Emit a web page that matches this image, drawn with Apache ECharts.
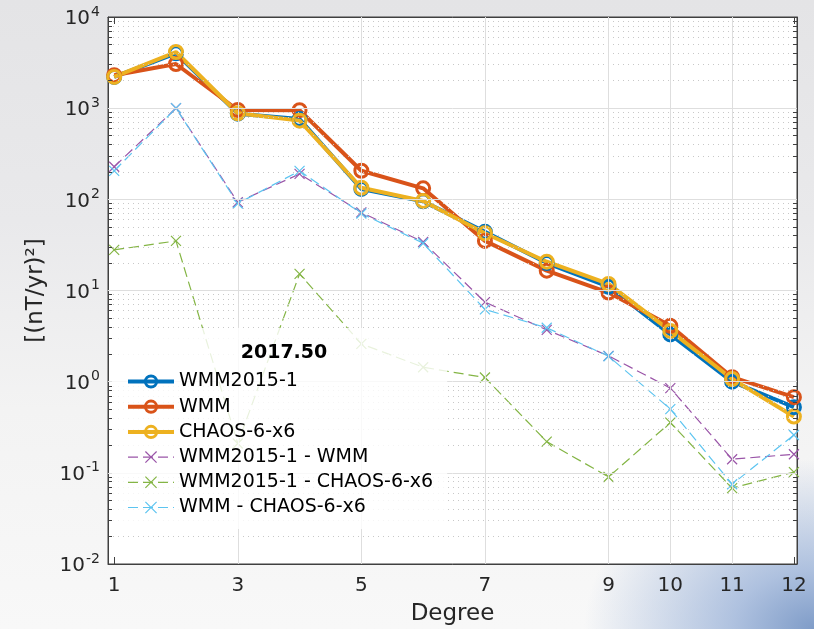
<!DOCTYPE html>
<html>
<head>
<meta charset="utf-8">
<script src="https://cdn.jsdelivr.net/npm/echarts@6/dist/echarts.min.js"></script>
<style>
  html, body { margin: 0; padding: 0; }
  body {
    width: 814px; height: 629px;
    background:
      radial-gradient(ellipse 230px 170px at 100% 100%, #7f9cc8 0%, rgba(150,175,215,0.75) 35%, rgba(255,255,255,0) 100%),
      linear-gradient(to bottom, #e4e4e6 0%, #e9e9eb 35%, #f3f3f3 65%, #f8f8f8 100%);
  }
  #chart { width: 814px; height: 629px; }
</style>
</head>
<body>
<div id="chart"></div>
<script>
'use strict';

const degrees = [1, 2, 3, 4, 5, 6, 7, 8, 9, 10, 11, 12];
const wmm2015 = [2200, 4000, 870, 760, 130, 95, 44, 20, 11, 3.3, 1.0, 0.525];
const wmm = [2300, 3050, 955, 950, 206, 132, 35, 16.5, 9.5, 4.1, 1.12, 0.676];
const chaos = [2200, 4130, 880, 730, 134, 96, 42.5, 20.7, 11.8, 3.6, 1.07, 0.414];
const diffWmm2015Wmm = [228, 1000, 93, 190, 72, 34, 7.45, 3.7, 1.92, 0.85, 0.141, 0.16];
const diffWmm2015Chaos = [27.9, 35, 0.21, 15.2, 2.6, 1.44, 1.11, 0.22, 0.09, 0.356, 0.068, 0.102];
const diffWmmChaos = [205, 1000, 90, 205, 70, 33, 6.2, 3.9, 1.9, 0.5, 0.075, 0.26];

const xTicks = [1, 3, 5, 7, 9, 10, 11, 12];
const yDecades = [0.01, 0.1, 1, 10, 100, 1000, 10000];
const legendTitle = '2017.50';

const X_MIN = 0.9;
const X_MAX = 12.05;

// minor positions 2..9 x 10^k
const yMinor = [];
yDecades.slice(0, -1).forEach(d => {
    for (let m = 2; m <= 9; m++) yMinor.push(+(d * m).toPrecision(3));
});

const pairs = vals => degrees.map((d, i) => [d, vals[i]]);

const crossPath = 'path://M0,0L10,10M10,0L0,10';

const thickSeries = (name, color, vals) => ({
    name: name,
    type: 'line',
    data: pairs(vals),
    symbol: 'circle',
    symbolSize: 13,
    lineStyle: { color: color, width: 4 },
    itemStyle: { color: 'rgba(255,255,255,0)', borderColor: color, borderWidth: 3 },
    emphasis: { disabled: true },
    z: 3
});

const diffSeries = (name, color, vals) => ({
    name: name,
    type: 'line',
    data: pairs(vals),
    symbol: crossPath,
    symbolSize: 10,
    lineStyle: { color: color, width: 1.2, type: [10, 5] },
    itemStyle: { color: color, borderColor: color, borderWidth: 1.2 },
    emphasis: { disabled: true },
    z: 4
});

// grid lines and minor ticks, placed through the axes
const gridLines = {
    type: 'line',
    data: [],
    silent: true,
    z: 1,
    markLine: {
        silent: true,
        symbol: 'none',
        label: { show: false },
        animation: false,
        data: [].concat(
            yMinor.map(v => ({ yAxis: v, lineStyle: { color: '#c8c8c8', width: 1, type: [1, 4] } })),
            yDecades.slice(1, -1).map(v => ({ yAxis: v, lineStyle: { color: '#dedede', width: 1, type: 'solid' } })),
            xTicks.slice(1, -1).map(v => ({ xAxis: v, lineStyle: { color: '#dedede', width: 1, type: 'solid' } })),
            yMinor.map(v => [
                { coord: [X_MIN, v], lineStyle: { color: '#404040', width: 1, type: 'solid' } },
                { coord: [X_MIN + 0.065, v] }
            ]),
            yMinor.map(v => [
                { coord: [X_MAX, v], lineStyle: { color: '#404040', width: 1, type: 'solid' } },
                { coord: [X_MAX - 0.065, v] }
            ])
        )
    }
};

const chart = echarts.init(document.getElementById('chart'));

const txt = '#262626';
const font = 'DejaVu Sans';

const thickLegend = name => ({ name: name, lineStyle: { width: 4 }, itemStyle: { borderWidth: 3 } });
const thinLegend = name => ({ name: name, lineStyle: { width: 1.2 }, itemStyle: { borderWidth: 1.2 } });

chart.setOption({
    animation: false,
    textStyle: { fontFamily: font },
    title: {
        text: legendTitle,
        left: 279,
        top: 339,
        textAlign: 'center',
        textStyle: { fontFamily: font, fontSize: 19, fontWeight: 'bold', color: '#000' },
        z: 12
    },
    grid: {
        left: 108, right: 17, top: 17, bottom: 65,
        outerBoundsMode: 'none',
        containLabel: false,
        show: true,
        backgroundColor: '#ffffff',
        borderColor: '#404040',
        borderWidth: 1
    },
    legend: {
        orient: 'vertical',
        left: 112,
        top: 328,
        z: 10,
        padding: [44, 14, 12, 14],
        backgroundColor: 'rgba(255,255,255,0.82)',
        itemWidth: 46,
        itemHeight: 14,
        itemGap: 6.2,
        selectedMode: false,
        textStyle: { fontFamily: font, fontSize: 19, color: '#000' },
        data: [
            thickLegend('WMM2015-1'),
            thickLegend('WMM'),
            thickLegend('CHAOS-6-x6'),
            thinLegend('WMM2015-1 - WMM'),
            thinLegend('WMM2015-1 - CHAOS-6-x6'),
            thinLegend('WMM - CHAOS-6-x6')
        ]
    },
    xAxis: [
        {
            type: 'value',
            min: X_MIN,
            max: X_MAX,
            name: 'Degree',
            nameLocation: 'middle',
            nameGap: 39,
            nameTextStyle: { fontFamily: font, fontSize: 23, color: txt },
            axisLine: { show: true, lineStyle: { color: '#404040' } },
            axisTick: { inside: true, length: 7, customValues: xTicks, lineStyle: { color: '#404040' } },
            axisLabel: { customValues: xTicks, fontSize: 20, color: txt, margin: 12, fontFamily: font },
            splitLine: { show: false }
        },
        {
            type: 'value',
            position: 'top',
            min: X_MIN,
            max: X_MAX,
            axisLine: { show: true, lineStyle: { color: '#404040' } },
            axisTick: { inside: true, length: 7, customValues: xTicks, lineStyle: { color: '#404040' } },
            axisLabel: { show: false },
            splitLine: { show: false }
        }
    ],
    yAxis: [
        {
            type: 'log',
            logBase: 10,
            min: 0.01,
            max: 10000,
            interval: 1,
            name: '[(nT/yr)²]',
            nameLocation: 'middle',
            nameGap: 60,
            nameTextStyle: { fontFamily: font, fontSize: 23, color: txt },
            axisLine: { show: true, lineStyle: { color: '#404040' } },
            axisTick: { inside: true, length: 8, lineStyle: { color: '#404040' } },
            axisLabel: {
                margin: 8,
                formatter: v => '{b|10}{s|' + Math.round(Math.log10(v)) + '}',
                rich: {
                    b: { fontSize: 20, color: txt, fontFamily: font, verticalAlign: 'bottom' },
                    s: { fontSize: 14, color: txt, fontFamily: font, verticalAlign: 'top', padding: [0, 0, 10, 1] }
                }
            },
            splitLine: { show: false }
        },
        {
            type: 'log',
            logBase: 10,
            min: 0.01,
            max: 10000,
            interval: 1,
            position: 'right',
            axisLine: { show: true, lineStyle: { color: '#404040' } },
            axisTick: { inside: true, length: 8, lineStyle: { color: '#404040' } },
            axisLabel: { show: false },
            splitLine: { show: false }
        }
    ],
    series: [
        gridLines,
        thickSeries('WMM2015-1', '#0072BD', wmm2015),
        thickSeries('WMM', '#D95319', wmm),
        thickSeries('CHAOS-6-x6', '#EDB120', chaos),
        diffSeries('WMM2015-1 - WMM', '#9a55a8', diffWmm2015Wmm),
        diffSeries('WMM2015-1 - CHAOS-6-x6', '#84b545', diffWmm2015Chaos),
        diffSeries('WMM - CHAOS-6-x6', '#5cc4f0', diffWmmChaos)
    ]
});
</script>
</body>
</html>
